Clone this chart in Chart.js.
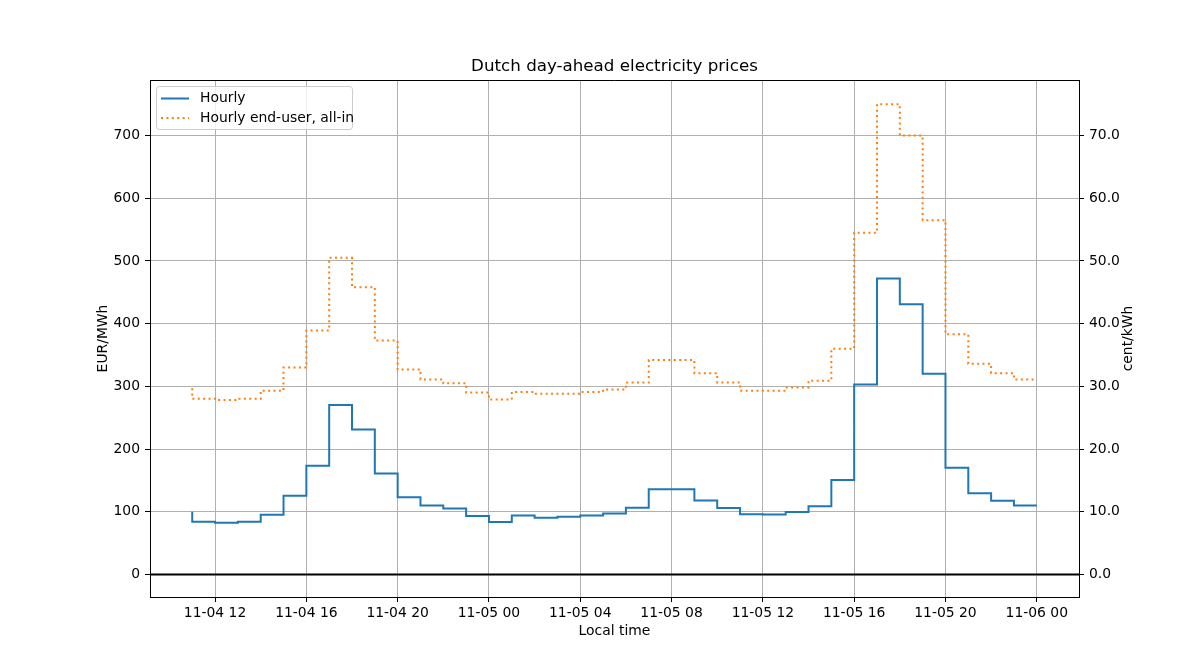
<!DOCTYPE html>
<html lang="en">
<head>
    <meta charset="UTF-8">
    <title>Dutch day-ahead electricity prices</title>
    <style>
        body { margin: 0; background: #fff; }
    </style>
</head>
<body>
    <canvas id="myChart" width="1200" height="672"></canvas>

    <script src="https://cdn.jsdelivr.net/npm/chart.js@4.4.0/dist/chart.umd.min.js"></script>
    <script>
        // hours counted from 11-04 00:00 (local time)
        const hours = [11, 12, 13, 14, 15, 16, 17, 18, 19, 20, 21, 22, 23, 24,
            25, 26, 27, 28, 29, 30, 31, 32, 33, 34, 35, 36, 37, 38, 39, 40,
            41, 42, 43, 44, 45, 46, 47, 48];

        // EUR/MWh
        const hourly = [100, 84, 82.5, 84, 95, 125.5, 173.5, 270, 231, 161, 123, 110, 105, 93,
            83.6, 94, 90.5, 92, 94, 97, 106.5, 136, 136, 118, 106, 96, 95.5, 99.5,
            108.6, 150.6, 303, 472, 431, 320, 170, 129.5, 117.5, 110];

        // cent/kWh
        const endUser = [29.7, 28.0, 27.8, 28.0, 29.3, 33.0, 38.9, 50.5, 45.8, 37.3, 32.7, 31.1, 30.5, 29.0,
            27.9, 29.1, 28.8, 28.8, 29.1, 29.5, 30.6, 34.2, 34.2, 32.1, 30.6, 29.3, 29.3, 29.8,
            30.9, 36.0, 54.5, 75.0, 70.0, 56.5, 38.3, 33.6, 32.1, 31.1];

        const xTicks = [12, 16, 20, 24, 28, 32, 36, 40, 44, 48];
        const leftTicks = [0, 100, 200, 300, 400, 500, 600, 700];
        const rightTicks = [0, 10, 20, 30, 40, 50, 60, 70];

        const tickFont = { family: 'DejaVu Sans', size: 13.9 };

        function timeLabel(h) {
            const day = 4 + Math.floor(h / 24);
            const hr = h % 24;
            return '11-' + String(day).padStart(2, '0') + ' ' + String(hr).padStart(2, '0');
        }

        const decor = {
            id: 'decor',
            beforeDatasetsDraw(chart) {
                const { ctx, chartArea: a, scales } = chart;
                const y0 = scales.y.getPixelForValue(0);
                ctx.save();
                ctx.strokeStyle = '#000';
                ctx.lineWidth = 2;
                ctx.beginPath();
                ctx.moveTo(a.left, y0);
                ctx.lineTo(a.right, y0);
                ctx.stroke();
                ctx.restore();
            },
            afterDraw(chart) {
                const { ctx, chartArea: a } = chart;
                ctx.save();
                // top spine (others come from the scale borders)
                ctx.strokeStyle = '#000';
                ctx.lineWidth = 1;
                ctx.beginPath();
                ctx.moveTo(a.left, a.top + 0.5);
                ctx.lineTo(a.right + 0.5, a.top + 0.5);
                ctx.stroke();

                ctx.fillStyle = '#000';
                ctx.textAlign = 'center';
                ctx.textBaseline = 'middle';
                ctx.font = '16.7px "DejaVu Sans"';
                ctx.fillText('Dutch day-ahead electricity prices', (a.left + a.right) / 2, 67);

                ctx.font = '13.9px "DejaVu Sans"';
                ctx.fillText('Local time', (a.left + a.right) / 2, 631);

                const midY = (a.top + a.bottom) / 2;
                ctx.save();
                ctx.translate(103, midY);
                ctx.rotate(-Math.PI / 2);
                ctx.fillText('EUR/MWh', 0, 0);
                ctx.restore();

                ctx.save();
                ctx.translate(1128, midY);
                ctx.rotate(-Math.PI / 2);
                ctx.fillText('cent/kWh', 0, 0);
                ctx.restore();

                // legend
                ctx.beginPath();
                ctx.roundRect(156.5, 86.5, 196, 43, 3);
                ctx.fillStyle = 'rgba(255,255,255,0.8)';
                ctx.fill();
                ctx.strokeStyle = '#cccccc';
                ctx.lineWidth = 1;
                ctx.stroke();

                const rows = [98.5, 118];
                chart.data.datasets.forEach((ds, i) => {
                    ctx.strokeStyle = ds.borderColor;
                    ctx.lineWidth = ds.borderWidth;
                    ctx.setLineDash(ds.borderDash || []);
                    ctx.beginPath();
                    ctx.moveTo(161, rows[i]);
                    ctx.lineTo(189, rows[i]);
                    ctx.stroke();
                    ctx.setLineDash([]);
                    ctx.fillStyle = '#000';
                    ctx.textAlign = 'left';
                    ctx.fillText(ds.label, 200, rows[i]);
                });
                ctx.restore();
            }
        };

        const ctx = document.getElementById('myChart').getContext('2d');
        const myChart = new Chart(ctx, {
            type: 'line',
            data: {
                datasets: [{
                    label: 'Hourly',
                    data: hours.map((h, i) => ({ x: h, y: hourly[i] })),
                    borderColor: '#1f77b4',
                    borderWidth: 2,
                    stepped: 'after',
                    pointRadius: 0,
                    fill: false,
                    yAxisID: 'y'
                }, {
                    label: 'Hourly end-user, all-in',
                    data: hours.map((h, i) => ({ x: h, y: endUser[i] })),
                    borderColor: '#ff7f0e',
                    borderWidth: 2,
                    borderDash: [2, 3.4],
                    stepped: 'after',
                    pointRadius: 0,
                    fill: false,
                    yAxisID: 'y1'
                }]
            },
            options: {
                responsive: false,
                animation: false,
                layout: { padding: { top: 80, left: 0, right: 0, bottom: 0 } },
                plugins: {
                    legend: { display: false },
                    title: { display: false },
                    tooltip: { enabled: false }
                },
                scales: {
                    x: {
                        type: 'linear',
                        min: 9.15,
                        max: 49.85,
                        afterBuildTicks: s => { s.ticks = xTicks.map(v => ({ value: v })); },
                        afterFit: s => { s.height = 75; },
                        ticks: {
                            callback: v => timeLabel(v),
                            autoSkip: false,
                            maxRotation: 0,
                            color: '#000',
                            font: tickFont,
                            padding: 3
                        },
                        grid: { color: '#b0b0b0', lineWidth: 1, tickColor: '#000', tickLength: 5 },
                        border: { color: '#000', width: 1 }
                    },
                    y: {
                        position: 'left',
                        min: -36,
                        max: 788.5,
                        afterBuildTicks: s => { s.ticks = leftTicks.map(v => ({ value: v })); },
                        afterFit: s => { s.width = 150; },
                        ticks: { color: '#000', font: tickFont, padding: 5 },
                        grid: { color: '#b0b0b0', lineWidth: 1, tickColor: '#000', tickLength: 5 },
                        border: { color: '#000', width: 1 }
                    },
                    y1: {
                        position: 'right',
                        min: -3.6,
                        max: 78.85,
                        afterBuildTicks: s => { s.ticks = rightTicks.map(v => ({ value: v })); },
                        afterFit: s => { s.width = 121; },
                        ticks: { color: '#000', font: tickFont, padding: 5, callback: v => v.toFixed(1) },
                        grid: { drawOnChartArea: false, tickColor: '#000', tickLength: 5 },
                        border: { color: '#000', width: 1 }
                    }
                }
            },
            plugins: [decor]
        });
    </script>
</body>
</html>
